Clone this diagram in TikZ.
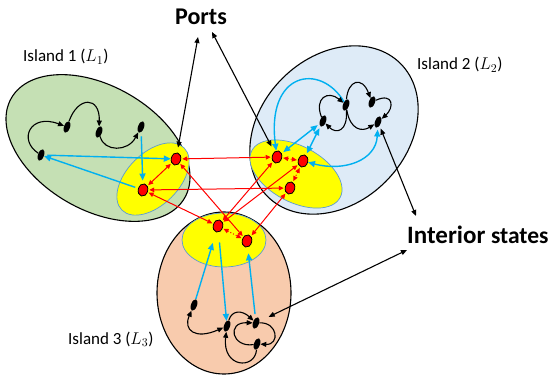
\RequirePackage{fix-cm}
\documentclass[tikz,border=0pt]{standalone}
\usepackage{fontspec}
\setmainfont{Carlito}
\usetikzlibrary{arrows.meta,shapes.geometric}
\definecolor{grn}{RGB}{197,224,180}
\definecolor{lblue}{RGB}{222,235,247}
\definecolor{orng}{RGB}{248,203,173}
\definecolor{ylw}{RGB}{255,255,0}
\definecolor{yedge}{RGB}{91,155,213}
\definecolor{arrblue}{RGB}{0,176,240}
\begin{document}
\begin{tikzpicture}[x=1pt,y=1pt,
  island/.style={draw=black,line width=1.1pt},
  portzone/.style={fill=ylw,draw=yedge,line width=0.7pt},
  bnode/.style={ellipse,fill=black,inner sep=0pt,minimum width=6pt,minimum height=12pt,rotate=-20},
  rnode/.style={ellipse,fill=red,draw=black,line width=0.8pt,inner sep=0pt,minimum width=9.5pt,minimum height=12.5pt,rotate=-15},
  blk/.style={draw=black,line width=1.1pt,-{Triangle[length=6pt,width=5pt]}},
  blkb/.style={draw=black,line width=1.1pt,{Triangle[length=6pt,width=5pt]}-{Triangle[length=6pt,width=5pt]}},
  blu/.style={draw=arrblue,line width=1.4pt,-{Triangle[length=7pt,width=6pt]}},
  blub/.style={draw=arrblue,line width=1.4pt,{Triangle[length=7pt,width=6pt]}-{Triangle[length=7pt,width=6pt]}},
  rd/.style={draw=red,line width=1pt,{Triangle[length=5pt,width=4.5pt]}-{Triangle[length=5pt,width=4.5pt]},shorten <=1pt,shorten >=1pt},
  lbl/.style={anchor=base west,inner sep=0pt,font=\fontsize{17}{20}\selectfont}
]
\useasboundingbox (0,0) rectangle (551,-377);
% islands
\filldraw[island,fill=grn,shift={(98,-148)},rotate=-30] (0,0) ellipse [x radius=100,y radius=62];
\filldraw[island,fill=lblue,shift={(334,-130)},rotate=45] (0,0) ellipse [x radius=94,y radius=73];
\filldraw[island,fill=orng,shift={(224,-293)}] (0,0) ellipse [x radius=67,y radius=81];
% port zones
\filldraw[portzone,shift={(153,-179)},rotate=45] (0,0) ellipse [x radius=44,y radius=26];
\filldraw[portzone,shift={(296,-174)},rotate=-28] (0,0) ellipse [x radius=50,y radius=28];
\filldraw[portzone,shift={(224,-240)}] (0,0) ellipse [x radius=42,y radius=27];
% labels
\node[lbl] (lab1) at (23,-62) {Island 1 ($L_1$)};
\node[lbl] (lab2) at (417,-70) {Island 2 ($L_2$)};
\node[lbl] (lab3) at (68,-344) {Island 3 ($L_3$)};
\node[font=\bfseries\fontsize{24}{28}\selectfont,inner sep=0pt] (ports) at (201,-17) {Ports};
\node[anchor=base west,inner sep=0pt,font=\bfseries] (intl) at (407,-243) {\fontsize{25}{28}\selectfont Interior \fontsize{23.5}{26}\selectfont states};
\coordinate (pt1) at (198,-37);
\coordinate (pt2) at (212,-32);
\coordinate (is1) at (416,-216);
\coordinate (is2) at (407,-250);
% ports
\node[rnode] (p1a) at (176,-159) {};
\node[rnode] (p1b) at (143,-190) {};
\node[rnode] (p2a) at (277,-157) {};
\node[rnode] (p2b) at (303,-161) {};
\node[rnode] (p2c) at (290,-188) {};
\node[rnode] (p3a) at (218,-226) {};
\node[rnode] (p3b) at (247,-241) {};
% interior states
\node[bnode] (n1a) at (41,-155) {};
\node[bnode] (n1b) at (67,-127) {};
\node[bnode] (n1c) at (99,-132) {};
\node[bnode] (n1d) at (141,-127) {};
\node[bnode] (n2a) at (323,-121) {};
\node[bnode] (n2b) at (346,-105) {};
\node[bnode] (n2c) at (372,-102) {};
\node[bnode] (n2d) at (378,-122) {};
\node[bnode] (n3a) at (194,-305) {};
\node[bnode] (n3b) at (227,-326) {};
\node[bnode] (n3c) at (256,-323) {};
\node[bnode] (n3d) at (257,-344) {};
% blue connectors
\draw[blu,shorten <=3pt] (n1a) -- (p1a);
\draw[blu,shorten <=3pt] (p1b) -- (n1a);
\draw[blu,shorten <=4pt,shorten >=3pt] (n1d) -- (p1b);
\draw[blu] (n2b) .. controls (320,-62) and (266,-72) .. (p2a);
\draw[blub,shorten <=2pt,shorten >=2pt] (n2a) -- (p2a);
\draw[blub,shorten <=2pt,shorten >=2pt] (n2a) -- (p2b);
\draw[blub,shorten <=2pt] (n2d) .. controls (376,-160) and (345,-172) .. (p2b);
\draw[blu,shorten >=11pt] (n3a) -- (p3a);
\draw[blu,shorten <=10pt] (p3a) -- (n3b);
\draw[blu,shorten >=6pt,shorten <=4pt] (n3c) -- (p3b);
% black connectors inside islands
\draw[blk] (n1a) .. controls (18,-140) and (30,-113) .. (n1b);
\draw[blk] (n1b) .. controls (78,-96) and (100,-96) .. (n1c);
\draw[blk] (n1c) .. controls (104,-152) and (128,-152) .. (n1d);
\draw[blk] (n2a) .. controls (314,-98) and (328,-90) .. (n2b);
\draw[blk] (n2b) .. controls (348,-132) and (336,-134) .. (n2a);
\draw[blk] (n2b) .. controls (348,-80) and (362,-76) .. (n2c);
\draw[blk] (n2c) .. controls (394,-92) and (394,-108) .. (n2d);
\draw[blk] (n2b) .. controls (350,-130) and (362,-132) .. (n2d);
\draw[blkb] (n3a) .. controls (183,-330) and (195,-340) .. (n3b);
\draw[blk] (n3b) .. controls (232,-310) and (242,-310) .. (n3c);
\draw[blk] (n3d) .. controls (232,-348) and (226,-322) .. (n3c);
\draw[blk] (n3c) .. controls (278,-322) and (280,-345) .. (n3d);
\draw[blk] (n3d) .. controls (255,-370) and (222,-368) .. (n3b);
% label connectors
\draw[blkb,shorten >=5pt] (pt1) -- (p1a);
\draw[blkb,shorten >=6pt] (pt2) -- (p2a);
\draw[blkb,shorten >=3pt] (is1) -- (n2d);
\draw[blkb,shorten >=10pt] (is2) -- (n3c);
% red port links
\draw[rd] (p1a) -- (p1b);
\draw[rd] (p1a) -- (p2a);
\draw[rd] (p1b) -- (p2c);
\draw[rd] (p1b) -- (p3a);
\draw[rd] (p1a) -- (p3b);
\draw[rd] (p2a) -- (p3a);
\draw[rd] (p2b) -- (p3a);
\draw[rd] (p2c) -- (p3b);
\draw[rd,dotted] (p2a) -- (p2b);
\draw[rd,dotted] (p2b) -- (p2c);
\draw[rd,dotted] (p3a) -- (p3b);
\end{tikzpicture}
\end{document}
